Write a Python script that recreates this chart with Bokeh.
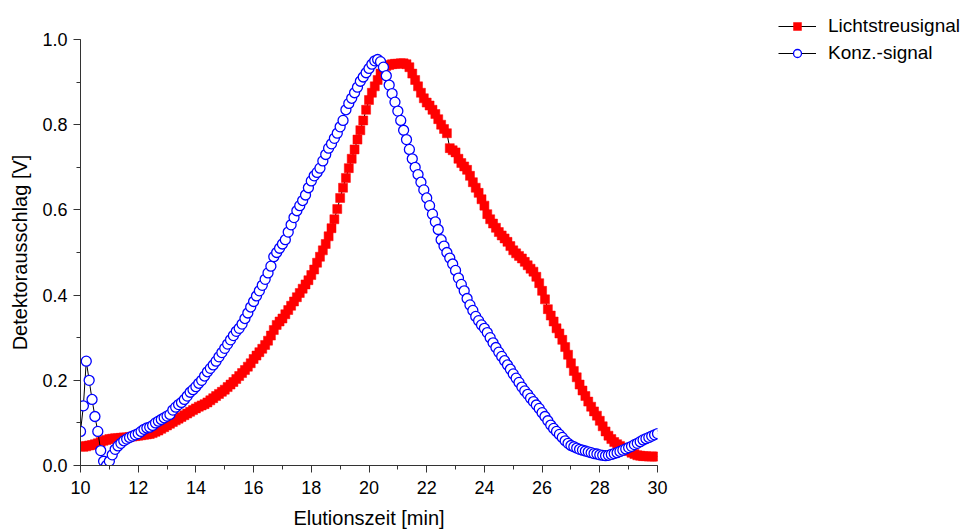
from bokeh.plotting import figure
from bokeh.layouts import row, column
from bokeh.models import (ColumnDataSource, Range1d, SingleIntervalTicker, Legend, LegendItem,
                          PrintfTickFormatter)
from bokeh.embed import file_html
from bokeh.resources import INLINE

# sampling grid: 10.0 .. 30.0 min in steps of 0.1 min
zeit = [round(10 + 0.1 * i, 1) for i in range(201)]

# Konz.-signal (blue open circles)
konz = [
    0.08, 0.14, 0.245, 0.20, 0.155, 0.115, 0.08, 0.035, 0.01, 0.0,
    0.01, 0.025, 0.038, 0.046, 0.052, 0.058, 0.062, 0.066, 0.069, 0.072,
    0.075, 0.08, 0.085, 0.088, 0.09, 0.094, 0.1, 0.104, 0.108, 0.112,
    0.116, 0.12, 0.13, 0.137, 0.143, 0.148, 0.155, 0.163, 0.172, 0.178,
    0.185, 0.193, 0.2, 0.21, 0.22, 0.228, 0.236, 0.245, 0.255, 0.265,
    0.275, 0.285, 0.295, 0.305, 0.315, 0.322, 0.332, 0.345, 0.358, 0.372,
    0.385, 0.398, 0.41, 0.423, 0.437, 0.452, 0.468, 0.49, 0.5, 0.51,
    0.52, 0.53, 0.548, 0.565, 0.582, 0.598, 0.61, 0.622, 0.635, 0.652,
    0.668, 0.68, 0.688, 0.698, 0.715, 0.73, 0.745, 0.755, 0.768, 0.78,
    0.795, 0.81, 0.835, 0.85, 0.862, 0.875, 0.888, 0.902, 0.912, 0.922,
    0.932, 0.942, 0.95, 0.953, 0.948, 0.935, 0.915, 0.893, 0.873, 0.853,
    0.832, 0.81, 0.787, 0.765, 0.742, 0.72, 0.7, 0.683, 0.665, 0.647,
    0.628, 0.61, 0.59, 0.572, 0.554, 0.53, 0.515, 0.5, 0.487, 0.473,
    0.458, 0.44, 0.425, 0.41, 0.392, 0.377, 0.364, 0.35, 0.34, 0.33,
    0.322, 0.312, 0.3, 0.288, 0.277, 0.266, 0.256, 0.246, 0.236, 0.226,
    0.215, 0.205, 0.195, 0.184, 0.175, 0.167, 0.158, 0.15, 0.142, 0.134,
    0.124, 0.115, 0.105, 0.095, 0.087, 0.08, 0.073, 0.066, 0.058, 0.052,
    0.047, 0.044, 0.041, 0.038, 0.036, 0.034, 0.032, 0.03, 0.028, 0.027,
    0.025, 0.024, 0.023, 0.024, 0.026, 0.028, 0.03, 0.033, 0.036, 0.039,
    0.042, 0.045, 0.049, 0.052, 0.056, 0.06, 0.063, 0.066, 0.069, 0.072,
    0.075,
]

# Lichtstreusignal (red filled squares)
licht = [
    0.045, 0.044, 0.045, 0.047, 0.048, 0.05, 0.052, 0.055, 0.058, 0.06,
    0.062, 0.063, 0.064, 0.064, 0.065, 0.066, 0.066, 0.067, 0.068, 0.069,
    0.07, 0.071, 0.072, 0.073, 0.074, 0.076, 0.079, 0.082, 0.086, 0.09,
    0.094, 0.098, 0.102, 0.106, 0.11, 0.114, 0.118, 0.122, 0.126, 0.13,
    0.134, 0.138, 0.141, 0.144, 0.148, 0.153, 0.158, 0.163, 0.168, 0.173,
    0.178, 0.184, 0.19, 0.196, 0.203, 0.21, 0.217, 0.224, 0.232, 0.24,
    0.25, 0.258, 0.266, 0.274, 0.283, 0.293, 0.305, 0.318, 0.33, 0.338,
    0.345, 0.355, 0.365, 0.375, 0.385, 0.395, 0.405, 0.415, 0.425, 0.435,
    0.447, 0.46, 0.476, 0.49, 0.505, 0.52, 0.538, 0.557, 0.578, 0.602,
    0.628, 0.652, 0.675, 0.698, 0.72, 0.742, 0.765, 0.787, 0.81, 0.835,
    0.858, 0.875, 0.89, 0.905, 0.92, 0.932, 0.938, 0.94, 0.942, 0.943,
    0.943, 0.944, 0.944, 0.942, 0.935, 0.92, 0.905, 0.89, 0.875, 0.862,
    0.852, 0.845, 0.835, 0.825, 0.813, 0.8, 0.79, 0.78, 0.745, 0.74,
    0.735, 0.72, 0.71, 0.702, 0.694, 0.68, 0.665, 0.652, 0.64, 0.625,
    0.61, 0.59, 0.578, 0.568, 0.558, 0.548, 0.54, 0.533, 0.525, 0.515,
    0.505, 0.498, 0.492, 0.486, 0.478, 0.47, 0.462, 0.455, 0.443, 0.428,
    0.41, 0.39, 0.367, 0.352, 0.338, 0.322, 0.31, 0.295, 0.278, 0.26,
    0.24, 0.222, 0.207, 0.19, 0.176, 0.163, 0.15, 0.138, 0.127, 0.117,
    0.105, 0.092, 0.08, 0.07, 0.062, 0.055, 0.05, 0.046, 0.042, 0.038,
    0.034, 0.03, 0.027, 0.024, 0.023, 0.022, 0.022, 0.021, 0.021, 0.021,
    0.021,
]

series_labels = ["Lichtstreusignal", "Konz.-signal"]
x_title = "Elutionszeit [min]"
y_title = "Detektorausschlag [V]"

FONT = "Liberation Sans"

src = ColumnDataSource(dict(t=zeit, konz=konz, licht=licht))


def draw_series(fig):
    rl = fig.line("t", "licht", source=src, line_color="black", line_width=1)
    rs = fig.scatter("t", "licht", source=src, marker="square", size=9,
                     fill_color="#ff0000", line_color="#ff0000", line_width=0.5)
    bl = fig.line("t", "konz", source=src, line_color="black", line_width=1)
    bs = fig.scatter("t", "konz", source=src, marker="circle", size=10,
                     fill_color="white", line_color="#0000ff", line_width=1.3)
    return rl, rs, bl, bs


# main chart
p = figure(width=680, height=531, output_backend="svg", toolbar_location=None,
           x_range=Range1d(10, 30), y_range=Range1d(0, 1.0),
           min_border_left=80, min_border_top=39, min_border_bottom=64, min_border_right=23)
p.outline_line_color = None
p.xgrid.visible = False
p.ygrid.visible = False
p.background_fill_color = "white"
p.border_fill_color = "white"

draw_series(p)

p.xaxis.ticker = SingleIntervalTicker(interval=2, num_minor_ticks=2)
p.yaxis.ticker = SingleIntervalTicker(interval=0.2, num_minor_ticks=2)
p.yaxis.formatter = PrintfTickFormatter(format="%.1f")

for ax in (p.xaxis, p.yaxis):
    ax.axis_line_color = "#333333"
    ax.major_tick_line_color = "#333333"
    ax.minor_tick_line_color = "#333333"
    ax.major_tick_out = 7
    ax.major_tick_in = 0
    ax.minor_tick_out = 4
    ax.minor_tick_in = 0
    ax.major_label_text_font = FONT
    ax.major_label_text_font_size = "18px"
    ax.major_label_text_color = "black"
    ax.axis_label_text_font = FONT
    ax.axis_label_text_font_size = "20px"
    ax.axis_label_text_font_style = "normal"
    ax.axis_label_text_color = "black"

p.xaxis.major_label_standoff = 8
p.xaxis.axis_label_standoff = 10
p.yaxis.major_label_standoff = 6
p.yaxis.axis_label_standoff = 8

p.xaxis.axis_label = x_title
p.yaxis.axis_label = y_title

# legend panel (its own series glyphs lie outside its ranges, only the legend shows)
pl = figure(width=288, height=531, output_backend="svg", toolbar_location=None,
            x_range=Range1d(0, 1), y_range=Range1d(0, 1),
            x_axis_location=None, y_axis_location=None,
            min_border_left=98, min_border_right=0, min_border_top=15, min_border_bottom=0)
pl.outline_line_color = None
pl.xgrid.visible = False
pl.ygrid.visible = False
lrl, lrs, lbl, lbs = draw_series(pl)

legend = Legend(items=[LegendItem(label=series_labels[0], renderers=[lrl, lrs]),
                       LegendItem(label=series_labels[1], renderers=[lbl, lbs])],
                location="top_left", orientation="vertical",
                glyph_width=38, glyph_height=20, label_height=20, spacing=5,
                label_standoff=12, padding=0, margin=0,
                label_text_font=FONT, label_text_font_size="19px",
                label_text_color="black",
                border_line_color=None, background_fill_alpha=0)
pl.add_layout(legend, "center")

layout = row(p, column(pl))
open("out.html", "w").write(file_html(layout, INLINE))
